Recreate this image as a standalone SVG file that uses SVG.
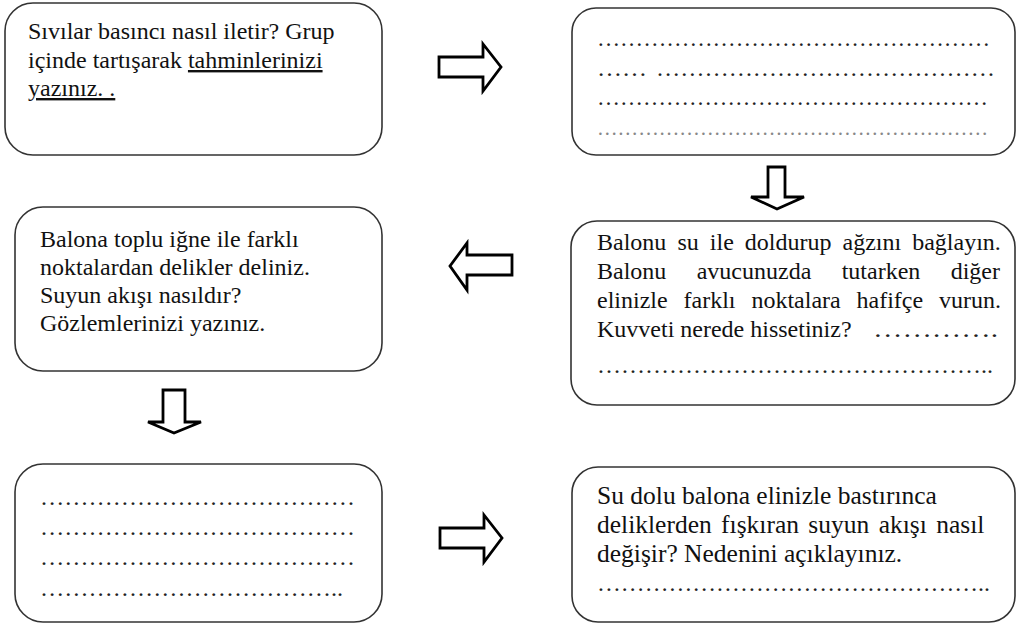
<svg xmlns="http://www.w3.org/2000/svg" width="1017" height="624" viewBox="0 0 1017 624">
<style>
.box{fill:#fff;stroke:#333;stroke-width:1.6}
.arrow{fill:#fff;stroke:#000;stroke-width:2.8;stroke-linejoin:miter}
.t{font-family:'Liberation Serif',serif;font-size:24px;fill:#111}
.big{font-size:25.5px}
.dots{fill:#222}
.faint{fill:#888;font-size:20px}
.u{text-decoration:underline}
</style>
<rect width="1017" height="624" fill="#fff"/>
<g id="connectors">
<polygon class="arrow" points="439,57 483,57 483,44 501,67 483,91 483,77 439,77"/>
<polygon class="arrow" points="768,167 785,167 785,197 804,197 777,209 751,197 768,197"/>
<polygon class="arrow" points="512,255 467,255 467,243 450,266 467,290 467,275 512,275"/>
<polygon class="arrow" points="163,390 185,390 185,422 201,422 174,433 148,422 163,422"/>
<polygon class="arrow" points="440,528 484,528 484,515 502,538 484,562 484,548 440,548"/>
</g>
<g id="node1" class="t">
<rect class="box" x="5" y="3" width="377" height="152" rx="28"/>
<text x="28" y="39">Sıvılar basıncı nasıl iletir? Grup</text>
<text x="28" y="68">içinde tartışarak <tspan class="u">tahminlerinizi</tspan></text>
<text x="28" y="96"><tspan class="u">yazınız. .</tspan></text>
</g>
<g id="node2" class="t">
<rect class="box" x="572" y="8" width="443" height="147" rx="24"/>
<text class="dots" x="597" y="46" textLength="393" lengthAdjust="spacingAndGlyphs">……………………………………………</text>
<text class="dots" x="597" y="76" textLength="50" lengthAdjust="spacingAndGlyphs">……</text>
<text class="dots" x="656" y="76" textLength="339" lengthAdjust="spacingAndGlyphs">……………………………………</text>
<text class="dots" x="597" y="105" textLength="391" lengthAdjust="spacingAndGlyphs">……………………………………………</text>
<text class="faint" x="597" y="135" textLength="391" lengthAdjust="spacingAndGlyphs">…………………………………………………</text>
</g>
<g id="node3" class="t">
<rect class="box" x="571" y="221" width="444" height="184" rx="26"/>
<text y="250"><tspan x="597">Balonu</tspan><tspan x="677.5">su</tspan><tspan x="709.8">ile</tspan><tspan x="744.8">doldurup</tspan><tspan x="842.5">ağzını</tspan><tspan x="912.2">bağlayın.</tspan></text>
<text y="279"><tspan x="597">Balonu</tspan><tspan x="696.7">avucunuzda</tspan><tspan x="841.7">tutarken</tspan><tspan x="950.7">diğer</tspan></text>
<text y="308"><tspan x="597">elinizle</tspan><tspan x="683.5">farklı</tspan><tspan x="751.4">noktalara</tspan><tspan x="856.5">hafifçe</tspan><tspan x="939">vurun.</tspan></text>
<text x="597" y="337">Kuvveti nerede hissetiniz?</text>
<text class="dots" x="873" y="337" textLength="125" lengthAdjust="spacingAndGlyphs">………….</text>
<text class="dots" x="597" y="373" textLength="396" lengthAdjust="spacingAndGlyphs">…………………………………………..</text>
</g>
<g id="node4" class="t">
<rect class="box" x="15" y="207" width="367" height="164" rx="28"/>
<text x="40" y="247">Balona toplu iğne ile farklı</text>
<text x="40" y="275">noktalardan delikler deliniz.</text>
<text x="40" y="303">Suyun akışı nasıldır?</text>
<text x="40" y="331">Gözlemlerinizi yazınız.</text>
</g>
<g id="node5" class="t">
<rect class="box" x="15" y="464" width="367" height="158" rx="28"/>
<text class="dots" x="40" y="505" textLength="315" lengthAdjust="spacingAndGlyphs">…………………………………</text>
<text class="dots" x="40" y="535" textLength="315" lengthAdjust="spacingAndGlyphs">…………………………………</text>
<text class="dots" x="40" y="565" textLength="315" lengthAdjust="spacingAndGlyphs">…………………………………</text>
<text class="dots" x="40" y="596" textLength="303" lengthAdjust="spacingAndGlyphs">………………………………..</text>
</g>
<g id="node6" class="t">
<rect class="box" x="572" y="467" width="443" height="155" rx="26"/>
<text class="big" x="597" y="504">Su dolu balona elinizle bastırınca</text>
<text class="big" x="597" y="533" style="word-spacing:3px">deliklerden fışkıran suyun akışı nasıl</text>
<text class="big" x="597" y="562">değişir? Nedenini açıklayınız.</text>
<text class="dots" x="597" y="591" textLength="393" lengthAdjust="spacingAndGlyphs">…………………………………………..</text>
</g>
</svg>
